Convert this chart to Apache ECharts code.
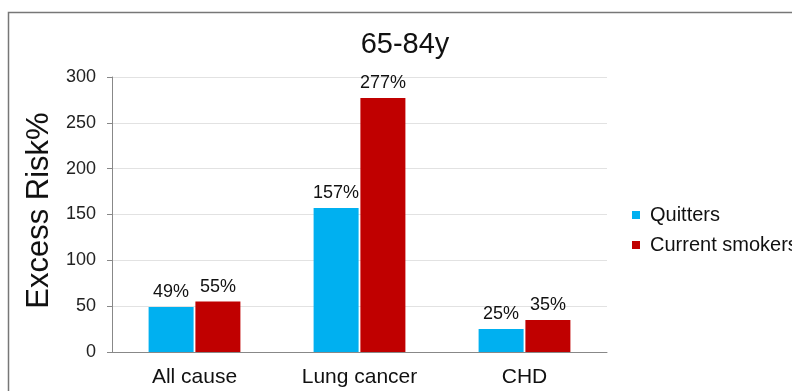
<!DOCTYPE html>
<html><head><meta charset="utf-8">
<script src="https://cdn.jsdelivr.net/npm/echarts@6/dist/echarts.min.js"></script>
<style>html,body{margin:0;padding:0;background:#fff;}#c{width:792px;height:391px;}</style>
</head><body><div id="c"></div>
<script>
const categories = ['All cause', 'Lung cancer', 'CHD'];
const quitters = [49, 157, 25];
const currentSmokers = [55, 277, 35];
const yTicks = [0, 50, 100, 150, 200, 250, 300];

const chart = echarts.init(document.getElementById('c'), null, {renderer: 'canvas'});
const font = 'Liberation Sans, Arial, sans-serif';
const lbl = {show: true, position: 'top', distance: 6, color: '#111', fontSize: 18, fontFamily: font, formatter: p => p.value + '%'};
chart.setOption({
  animation: false,
  backgroundColor: '#fff',
  graphic: [{type: 'rect', shape: {x: 8.5, y: 12.5, width: 900, height: 500}, style: {fill: 'none', stroke: '#777', lineWidth: 1.5}, z: -1}],
  title: {text: '65-84y', left: 400, top: 25, textAlign: 'center', textStyle: {fontSize: 29, fontWeight: 'normal', color: '#111', fontFamily: font}},
  legend: {orient: 'vertical', left: 627, top: 200, itemWidth: 8, itemHeight: 8, itemGap: 10, icon: 'rect',
    textStyle: {fontSize: 20, color: '#111', fontFamily: font, padding: [0, 0, 0, 5]}},
  grid: {left: 112, top: 77, width: 495, height: 275},
  xAxis: {type: 'category', data: categories,
    axisLine: {lineStyle: {color: '#888', width: 1}}, axisTick: {show: false},
    axisLabel: {fontSize: 21, color: '#111', fontFamily: font, margin: 15}},
  yAxis: {type: 'value', min: 0, max: 300, interval: 50, name: 'Excess Risk%', nameLocation: 'middle', nameGap: 47,
    nameTextStyle: {fontSize: 31, color: '#111', fontFamily: font, padding: [0, 0, 0, 8]},
    axisLine: {show: true, lineStyle: {color: '#888'}}, axisTick: {show: true, length: 5, lineStyle: {color: '#888'}},
    axisLabel: {fontSize: 18, color: '#222', fontFamily: font, margin: 16, formatter: v => yTicks.includes(v) ? String(v) : ''},
    splitLine: {lineStyle: {color: '#e2e2e2'}}},
  series: [
    {name: 'Quitters', type: 'bar', data: quitters, itemStyle: {color: '#00B0F0'}, barWidth: 45, barGap: '4%', label: lbl},
    {name: 'Current smokers', type: 'bar', data: currentSmokers, itemStyle: {color: '#C00000'}, barWidth: 45, label: lbl}
  ]
});
</script></body></html>
